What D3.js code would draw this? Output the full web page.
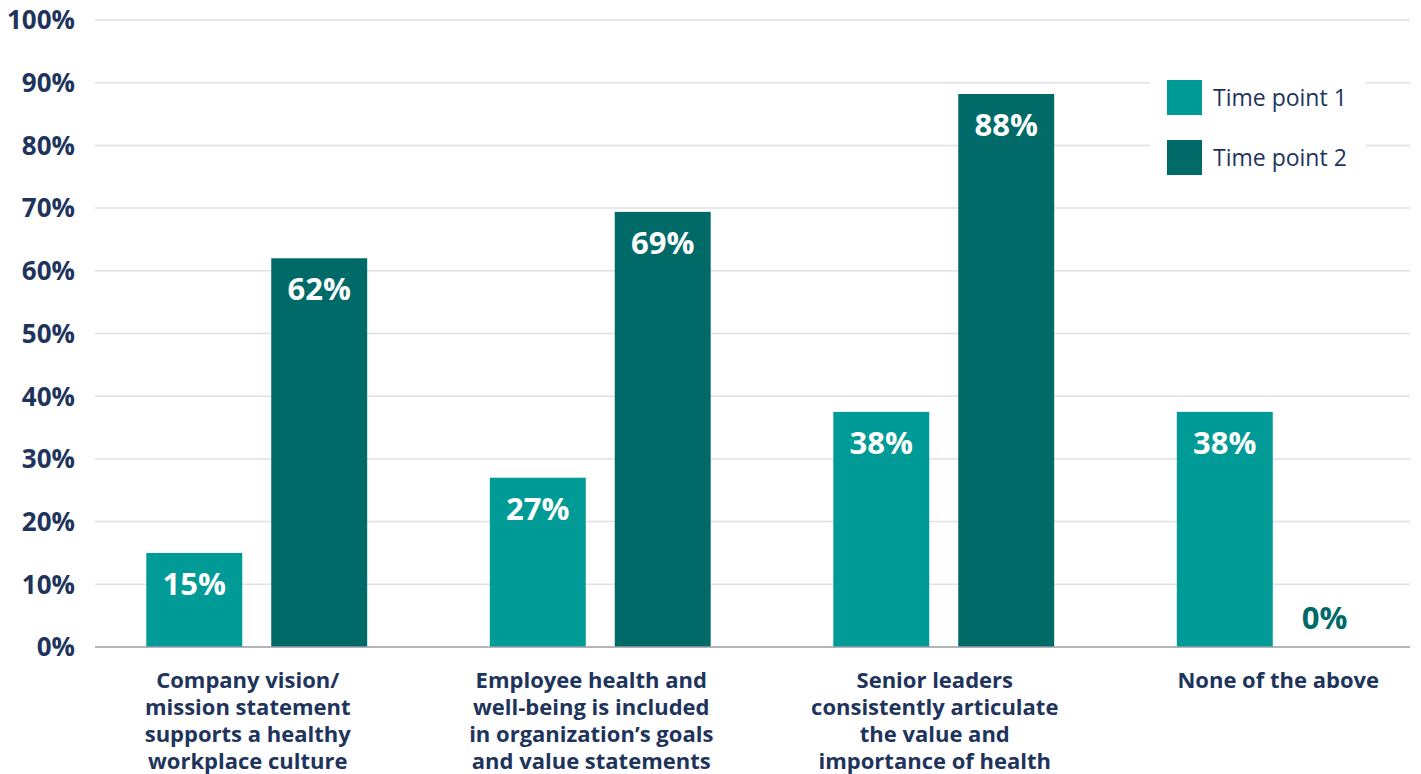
<!DOCTYPE html>
<html><head><meta charset="utf-8">
<script src="https://cdn.jsdelivr.net/npm/d3@7"></script>
<style>body{margin:0;background:#fff;}svg{display:block;font-family:"Open Sans",sans-serif;}</style>
</head><body>
<svg id="chart" width="1421" height="774"></svg>
<script>
const categories = [
  ["Company vision/","mission statement","supports a healthy","workplace culture"],
  ["Employee health and","well-being is included","in organization’s goals","and value statements"],
  ["Senior leaders","consistently articulate","the value and","importance of health"],
  ["None of the above"]
];
const categoryKeys = ["c1","c2","c3","c4"];
const seriesNames = ["Time point 1","Time point 2"];
const timePoint1 = [15, 27, 37.5, 37.5];
const timePoint2 = [62, 69.4, 88.2, 0];
const yTicks = [0,10,20,30,40,50,60,70,80,90,100];
const colors = ["#009B97","#006A69"];
const navy = "#1E345C";

const svg = d3.select("#chart");
const y = d3.scaleLinear().domain([0,100]).range([647,20]);
const x0 = d3.scaleBand().domain(categoryKeys).range([85,1459]).paddingInner(0.357).paddingOuter(0.1785);
const x1 = d3.scaleBand().domain(seriesNames).range([0,x0.bandwidth()]).paddingInner(0.232);
const color = d3.scaleOrdinal().domain(seriesNames).range(colors);

// gridlines
svg.append("g").selectAll("line").data(yTicks.filter(t=>t>0)).join("line")
  .attr("x1",95).attr("x2",1410).attr("y1",d=>y(d)).attr("y2",d=>y(d))
  .attr("stroke","#DFE0E8").attr("stroke-width",1.5);
// y labels
svg.append("g").selectAll("text").data(yTicks).join("text")
  .attr("x",75).attr("y",d=>y(d)).attr("dy","0.36em").attr("text-anchor","end")
  .attr("font-size",26).attr("font-weight",700).attr("fill",navy)
  .text(d=>d+"%");

const data = categoryKeys.map((k,i)=>({key:k, values:[
  {s:seriesNames[0], v:timePoint1[i]},{s:seriesNames[1], v:timePoint2[i]}]}));

const groups = svg.append("g").selectAll("g").data(data).join("g")
  .attr("transform",d=>`translate(${x0(d.key)},0)`);
groups.selectAll("rect").data(d=>d.values).join("rect")
  .attr("x",d=>x1(d.s)).attr("width",x1.bandwidth())
  .attr("y",d=>y(d.v)).attr("height",d=>y(0)-y(d.v))
  .attr("fill",d=>color(d.s));
groups.selectAll("text.val").data(d=>d.values).join("text").attr("class","val")
  .attr("x",d=>d.v>0 ? x1(d.s)+x1.bandwidth()/2 : x1(d.s))
  .attr("y",d=>d.v>0 ? y(d.v)+42 : y(0)-18)
  .attr("text-anchor",d=>d.v>0?"middle":"start")
  .attr("font-size",31).attr("font-weight",700)
  .attr("fill",d=>d.v>0?"#fff":colors[1])
  .text(d=>Math.round(d.v)+"%");

// axis line
svg.append("line").attr("x1",95).attr("x2",1410).attr("y1",y(0)).attr("y2",y(0))
  .attr("stroke","#9A9CA6").attr("stroke-width",1.5);

// x labels
const xl = svg.append("g").selectAll("text").data(data).join("text")
  .attr("x",d=>x0(d.key)+x0.bandwidth()/2-9)
  .attr("y",688).attr("text-anchor","middle")
  .attr("font-size",22).attr("font-weight",700).attr("fill",navy);
xl.each(function(d,i){
  d3.select(this).selectAll("tspan").data(categories[i]).join("tspan")
    .attr("x",x0(d.key)+x0.bandwidth()/2-9).attr("dy",(t,j)=>j===0?0:27).text(t=>t);
});

// legend
const lg = svg.append("g");
lg.append("rect").attr("x",1150).attr("y",66).attr("width",216).attr("height",124).attr("fill","#fff");
const li = lg.selectAll("g").data(seriesNames).join("g")
  .attr("transform",(d,i)=>`translate(1167,${80+i*60})`);
li.append("rect").attr("width",35).attr("height",35).attr("fill",d=>color(d));
li.append("text").attr("x",46).attr("y",17.5).attr("dy","0.36em")
  .attr("font-size",23).attr("fill",navy).text(d=>d);
</script>
</body></html>
